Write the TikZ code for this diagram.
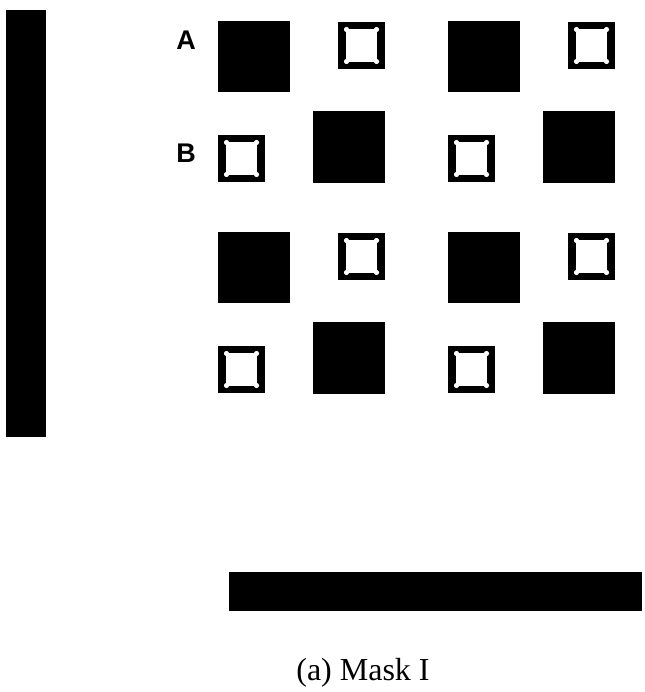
\documentclass[tikz,border=0pt]{standalone}
\usepackage{fontspec}
\setmainfont{Liberation Serif}
\newfontfamily\rowfont{Liberation Sans}
\usepackage{tikz}

\tikzset{
  rowlabel/.style={font=\rowfont\bfseries\fontsize{27}{30}\selectfont}
}
% hollow square, top-left corner at (#1,#2)
\newcommand\hollowsq[2]{%
  \fill (#1,#2) rectangle +(47,47);
  \fill[white] ({#1+8},{#2+7}) rectangle +(31,33);
  \foreach \hx/\hy in {8.5/7.5,38.5/7.5,8.5/39.5,38.5/39.5}
    \fill[white] ({#1+\hx},{#2+\hy}) circle (2.6);
}

\begin{document}
\begin{tikzpicture}[yscale=-1,x=1pt,y=1pt]
        \useasboundingbox (0,0) rectangle (644,692);

        % the two bars
        \fill (6,10) rectangle (46,437);
        \fill (229,572) rectangle (642,611);

        \foreach \cx in {0,230} {
          \foreach \cy in {0,211} {
            \fill ({218+\cx},{21+\cy}) rectangle +(72,71);
            \fill ({313+\cx},{111+\cy}) rectangle +(72,72);
            \hollowsq{338+\cx}{22+\cy}
            \hollowsq{218+\cx}{135+\cy}
          }
        }
        \node[rowlabel] (A) at (186,40) {A};
        \node[rowlabel] (B) at (186,153) {B};
        \node[font=\fontsize{32}{36}\selectfont] (cap) at (363,673) {(a) Mask I};
    \end{tikzpicture}
\end{document}
